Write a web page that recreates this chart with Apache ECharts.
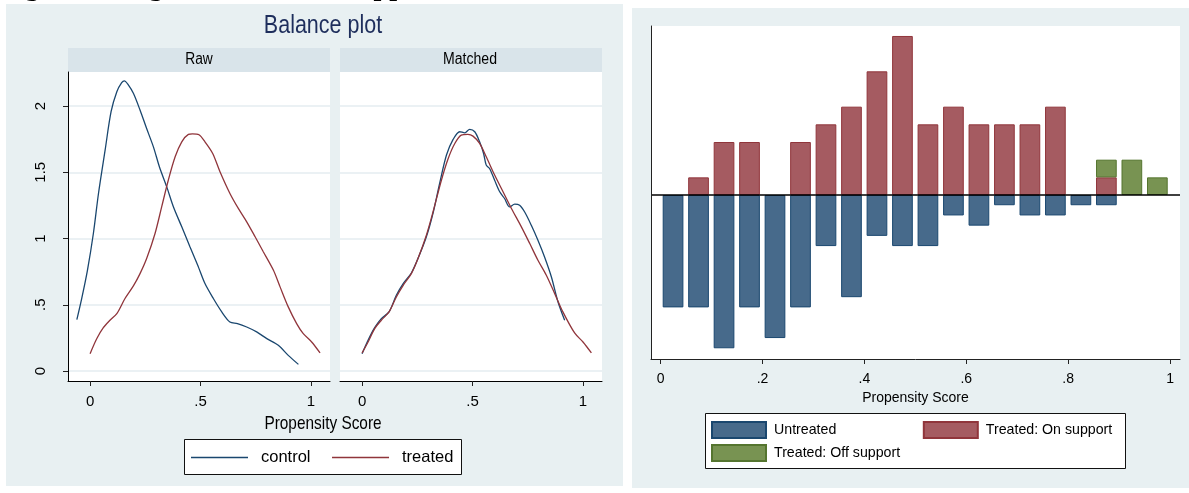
<!DOCTYPE html>
<html><head><meta charset="utf-8">
<script src="https://cdn.jsdelivr.net/npm/echarts@6/dist/echarts.min.js"></script>
<style>html,body{margin:0;padding:0;background:#fff}#c{width:1189px;height:493px}</style>
</head><body><div id="c"></div>
<script>
// ---- Balance plot data (kernel densities) ----
const rawControl = [[-0.060,0.388],[-0.038,0.547],[-0.012,0.76],[0.015,1.04],[0.038,1.34],[0.068,1.667],[0.095,1.957],[0.121,2.108],[0.143,2.176],[0.155,2.19],[0.173,2.16],[0.196,2.096],[0.226,1.97],[0.256,1.83],[0.287,1.69],[0.314,1.54],[0.347,1.39],[0.377,1.24],[0.415,1.088],[0.452,0.937],[0.49,0.786],[0.52,0.66],[0.558,0.547],[0.596,0.446],[0.633,0.37],[0.667,0.358],[0.709,0.332],[0.754,0.295],[0.8,0.244],[0.852,0.194],[0.897,0.118],[0.943,0.05]];
const rawTreated = [[0,0.131],[0.03,0.244],[0.06,0.327],[0.09,0.383],[0.121,0.433],[0.158,0.547],[0.196,0.642],[0.226,0.735],[0.256,0.849],[0.294,1.038],[0.324,1.239],[0.354,1.44],[0.385,1.617],[0.415,1.73],[0.445,1.786],[0.463,1.79],[0.493,1.783],[0.52,1.73],[0.555,1.642],[0.588,1.504],[0.633,1.34],[0.671,1.227],[0.709,1.126],[0.747,1.013],[0.784,0.9],[0.83,0.76],[0.86,0.635],[0.897,0.484],[0.935,0.358],[0.965,0.282],[1.003,0.219],[1.041,0.136]];
const matchedControl = [[0,0.131],[0.027,0.232],[0.057,0.327],[0.087,0.395],[0.122,0.446],[0.155,0.572],[0.186,0.66],[0.223,0.74],[0.253,0.849],[0.291,1.013],[0.321,1.19],[0.351,1.416],[0.382,1.63],[0.412,1.748],[0.442,1.806],[0.465,1.798],[0.487,1.824],[0.51,1.806],[0.532,1.73],[0.55,1.642],[0.562,1.554],[0.577,1.529],[0.6,1.44],[0.623,1.353],[0.645,1.302],[0.668,1.239],[0.691,1.26],[0.713,1.252],[0.736,1.2],[0.766,1.1],[0.796,0.987],[0.826,0.861],[0.857,0.71],[0.887,0.521],[0.917,0.383]];
const matchedTreated = [[0,0.136],[0.027,0.219],[0.057,0.32],[0.087,0.383],[0.122,0.446],[0.155,0.559],[0.186,0.647],[0.223,0.735],[0.253,0.849],[0.291,1.025],[0.321,1.2],[0.359,1.44],[0.389,1.6],[0.419,1.715],[0.449,1.78],[0.479,1.786],[0.502,1.773],[0.532,1.718],[0.562,1.617],[0.6,1.479],[0.638,1.353],[0.676,1.227],[0.721,1.088],[0.759,0.962],[0.796,0.836],[0.834,0.723],[0.872,0.584],[0.909,0.446],[0.962,0.287],[1.0,0.219],[1.038,0.136]];
const leftXTicks = [0, 0.5, 1];
const leftYTicks = [0, 0.5, 1, 1.5, 2];

// ---- psgraph histogram data (counts per bin of width .05) ----
const binCenters = ['0.025','0.075','0.125','0.175','0.225','0.275','0.325','0.375','0.425','0.475','0.525','0.575','0.625','0.675','0.725','0.775','0.825','0.875','0.925','0.975'];
const untreatedCounts = [11,11,15,11,14,11,5,10,4,5,5,2,3,1,2,2,1,1,0,0];
const treatedOnCounts = [0,1,3,3,0,3,4,5,7,9,4,5,4,4,4,5,0,1,0,0];
const treatedOffCounts = [0,0,0,0,0,0,0,0,0,0,0,0,0,0,0,0,0,1,2,1];
const rightXTicks = [0, 0.2, 0.4, 0.6, 0.8, 1];

const REG = "'Liberation Sans',Arial,sans-serif";
const BG = '#e8f0f2';
const GRIDC = '#e4edf0';
const NAVY = '#1a476f', MAROON = '#90353b';

function fmt(v){ if (v === 0) return '0'; let s = String(Math.round(v*100)/100); return s.replace(/^0\./,'.'); }

const chart = echarts.init(document.getElementById('c'), null, {renderer:'canvas'});

function leftX(grid){
  return {type:'value', gridIndex:grid, min:-0.1, max:1.086,
    axisLine:{onZero:false, lineStyle:{color:'#000', width:1}},
    axisTick:{customValues:leftXTicks, length:5, lineStyle:{color:'#222'}},
    axisLabel:{customValues:leftXTicks, formatter:fmt, margin:13, fontSize:15, color:'#000', fontFamily:REG},
    splitLine:{show:false}};
}
function leftY(grid, labels){
  return {type:'value', gridIndex:grid, min:-0.0755, max:2.257,
    axisLine:{show:labels, onZero:false, lineStyle:{color:'#000', width:1}},
    axisTick:{show:labels, customValues:leftYTicks, length:5, lineStyle:{color:'#222'}},
    axisLabel:{show:labels, customValues:leftYTicks, formatter:fmt, rotate:90, margin:20, fontSize:15, color:'#000', fontFamily:REG},
    splitLine:{show:true, lineStyle:{color:GRIDC, width:1.5}}};
}

const lineS = (name, data, xi, color) => ({type:'line', name, data, xAxisIndex:xi, yAxisIndex:xi,
  symbol:'none', smooth:0.3, lineStyle:{color, width:1.3}, itemStyle:{color}, z:3});

const barStyle = (fill, border) => ({color:fill, borderColor:border, borderWidth:1});
const txt = (text, x, y, size, sx, fill) => ({type:'text', z:5, x, y, scaleX:sx,
  style:{text, font:size+"px "+REG, fill:fill||'#000', align:'center', verticalAlign:'middle'}});

const option = {
  animation:false,
  backgroundColor:'#fff',
  graphic:[
    {type:'rect', z:-10, shape:{x:6,y:4,width:617,height:482}, style:{fill:BG}},
    {type:'rect', z:-10, shape:{x:632,y:8,width:557,height:480}, style:{fill:BG}},
    {type:'text', z:5, x:0, y:-12.3, style:{text:'Figure 5: Region of common support', font:"bold 28px 'Liberation Serif',serif", fill:'#000', verticalAlign:'middle', align:'left'}},
    txt('Balance plot', 323, 26, 25, 0.86, '#1e2e5c'),
    {type:'rect', z:-5, shape:{x:68,y:48,width:262,height:24}, style:{fill:'#d9e4ea'}},
    {type:'rect', z:-5, shape:{x:340,y:48,width:262,height:24}, style:{fill:'#d9e4ea'}},
    txt('Raw', 199, 60, 16, 0.86),
    txt('Matched', 470, 60, 16, 0.88),
    txt('Propensity Score', 323, 424, 19, 0.81),
    {type:'rect', z:-1, shape:{x:184.5,y:439.5,width:277,height:35}, style:{fill:'#fff', stroke:'#111', lineWidth:1}},
    {type:'rect', z:-1, shape:{x:705.5,y:413.5,width:420,height:55}, style:{fill:'#fff', stroke:'#111', lineWidth:1}}
  ],
  grid:[
    {left:68, top:72, width:262, height:309, show:true, backgroundColor:'#fff', borderWidth:0},
    {left:340, top:72, width:262, height:309, show:true, backgroundColor:'#fff', borderWidth:0},
    {left:651, top:26, width:529, height:333, show:true, backgroundColor:'#fff', borderWidth:0},
    {left:660.3, top:26, width:509.8, height:333, show:false}
  ],
  xAxis:[
    leftX(0), leftX(1),
    {type:'value', gridIndex:2, min:-0.0188, max:1.0194,
      axisLine:{onZero:false, lineStyle:{color:'#222', width:1}},
      axisTick:{customValues:rightXTicks, length:5, lineStyle:{color:'#222'}},
      axisLabel:{customValues:rightXTicks, formatter:fmt, margin:13, fontSize:14, color:'#000', fontFamily:REG},
      splitLine:{show:false},
      name:'Propensity Score', nameLocation:'middle', nameGap:30, nameTextStyle:{fontSize:14, color:'#000', fontFamily:REG}},
    {type:'category', gridIndex:3, data:binCenters, show:false, boundaryGap:true}
  ],
  yAxis:[
    leftY(0, true), leftY(1, false),
    {type:'value', gridIndex:2, min:-16.05, max:16.54, z:5,
      axisLine:{show:true, onZero:false, lineStyle:{color:'#222', width:1}},
      axisTick:{show:false, customValues:[0]}, axisLabel:{show:false},
      splitLine:{show:true, lineStyle:{color:'#000', width:1.5}}},
    {type:'value', gridIndex:3, min:-16.05, max:16.54, show:false},
    {type:'value', gridIndex:3, min:-9.28, max:9.565, show:false}
  ],
  legend:[
    {left:191, top:449, padding:0, itemWidth:57, itemHeight:1.6, itemGap:21.5, icon:'rect', data:['control','treated'],
      textStyle:{fontSize:16.5, color:'#000', fontFamily:REG, padding:[0,0,0,8]}},
    {left:711, top:421, padding:0, itemWidth:54, itemHeight:16, itemGap:86.5, icon:'rect', data:['Untreated','Treated: On support'],
      textStyle:{fontSize:14.2, color:'#000', fontFamily:REG, padding:[0,0,0,3]}},
    {left:711, top:444, padding:0, itemWidth:54, itemHeight:16, icon:'rect', data:['Treated: Off support'],
      textStyle:{fontSize:14.2, color:'#000', fontFamily:REG, padding:[0,0,0,3]}}
  ],
  series:[
    lineS('control', rawControl, 0, NAVY),
    lineS('treated', rawTreated, 0, MAROON),
    lineS('control', matchedControl, 1, NAVY),
    lineS('treated', matchedTreated, 1, MAROON),
    {type:'bar', name:'Untreated', xAxisIndex:3, yAxisIndex:3, barWidth:20.7, barGap:'-100%',
      data: untreatedCounts.map(v => v ? -v : '-'),
      itemStyle: barStyle('#476a8b', NAVY)},
    {type:'bar', name:'Treated: On support', xAxisIndex:3, yAxisIndex:4, stack:'tr', barWidth:20.7, barGap:'-100%',
      data: treatedOnCounts.map(v => v || '-'),
      itemStyle: barStyle('#a55b61', MAROON)},
    {type:'bar', name:'Treated: Off support', xAxisIndex:3, yAxisIndex:4, stack:'tr', barWidth:20.7, barGap:'-100%',
      data: treatedOffCounts.map(v => v || '-'),
      itemStyle: barStyle('#789352', '#55752f')}
  ]
};
chart.setOption(option);
</script></body></html>
